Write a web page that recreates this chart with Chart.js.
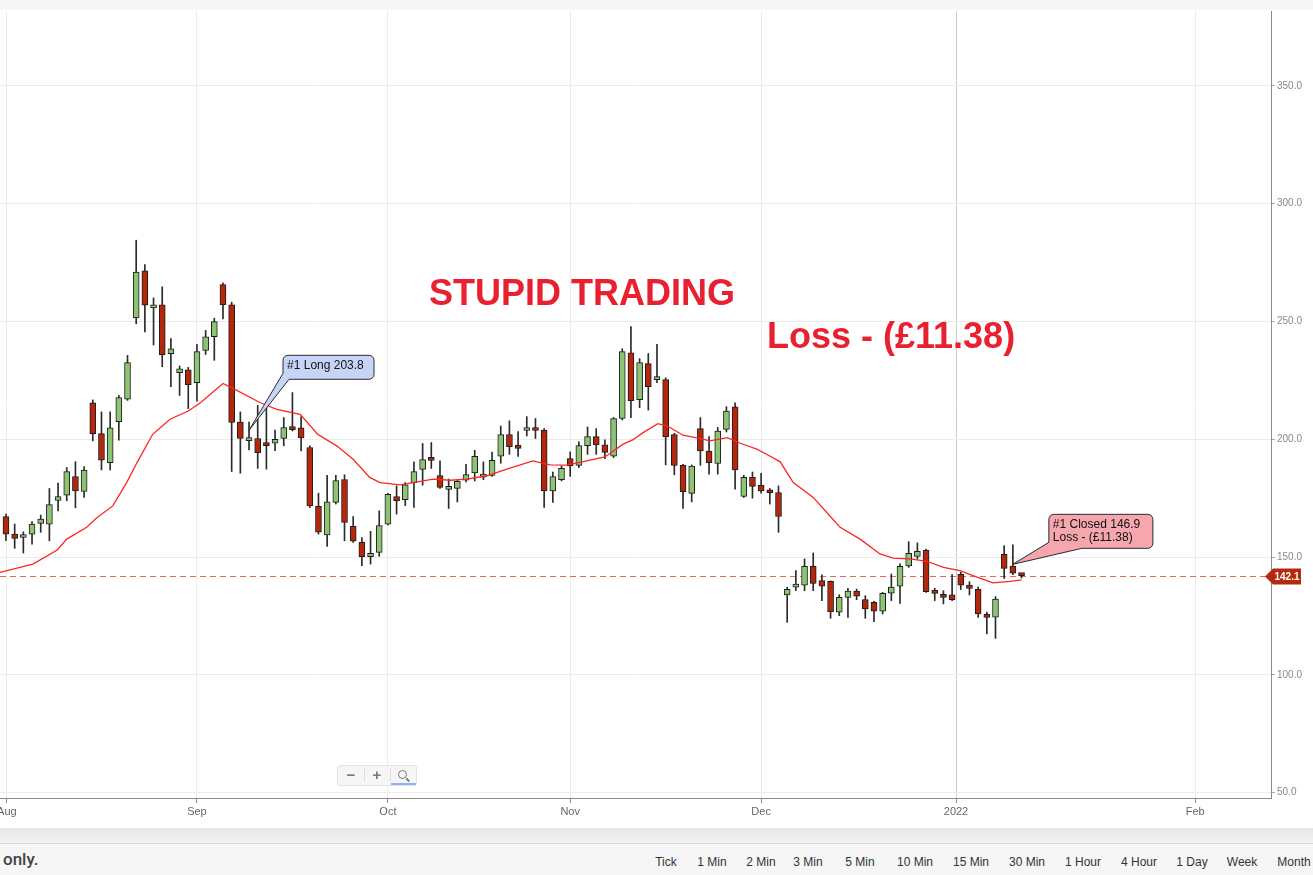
<!DOCTYPE html>
<html>
<head>
<meta charset="utf-8">
<title>Stupid trading</title>
<script src="https://cdn.jsdelivr.net/npm/chart.js@4.4.1/dist/chart.umd.min.js"></script>
<style>
body{margin:0;width:1313px;height:875px;overflow:hidden;background:#fff;font-family:"Liberation Sans",Arial,sans-serif;position:relative}
#topbar{position:absolute;left:0;top:0;width:1313px;height:10px;background:#f7f7f7}
#wrap{position:absolute;left:0;top:0;width:1313px;height:828px}
#shadow{position:absolute;left:0;top:828px;width:1313px;height:15px;background:linear-gradient(#e6e6e6,#f3f3f3)}
#footer{position:absolute;left:0;top:843px;width:1313px;height:32px;background:#f6f6f6;border-top:1px solid #dadada}
#footer .only{position:absolute;left:3px;top:5px;font-family:Roboto,"Liberation Sans",Arial;font-size:17px;font-weight:500;color:#444}
#footer .tf{position:absolute;top:11px;font-size:12px;color:#333;transform:translateX(-50%);white-space:nowrap}
#zoombox{position:absolute;left:337px;top:765px;width:78px;height:19px;background:#f6f6f6;border:1px solid #e2e2e2;border-radius:3px;font-size:15px;color:#777}
#zoombox span{position:absolute;top:0;width:26px;text-align:center;line-height:18px;font-weight:bold}
#zoombox .sep{position:absolute;top:3px;width:1px;height:13px;background:#ddd}
#lens{position:absolute;left:60px;top:4px;width:7px;height:7px;border:1.5px solid #777;border-radius:50%}
#lens:after{content:"";position:absolute;left:7px;top:8px;width:4px;height:1.5px;background:#777;transform:rotate(45deg)}
#uline{position:absolute;left:53px;top:17px;width:25px;height:2px;background:#8ab4f8}
</style>
</head>
<body>
<div id="wrap"><canvas id="candle-chart"></canvas></div>
<div id="topbar"></div>
<div id="zoombox"><span style="left:0">&minus;</span><div class="sep" style="left:26px"></div><span style="left:26px">+</span><div class="sep" style="left:52px"></div><div id="lens"></div><div id="uline"></div></div>
<div id="shadow"></div>
<div id="footer"><div class="only">only.</div></div>
<script>
// daily candles, Aug 2021 - Jan 2022 (index 0 = first candle)
var opens  = [167.2,159.7,158.3,159.7,164.3,163.9,174.0,176.3,184.2,177.8,215.5,202.4,190.1,207.5,217.0,251.5,271.5,255.8,257.1,236.3,228.3,229.5,224.0,237.7,243.5,265.7,257.1,207.3,199.4,200.3,198.2,198.3,200.3,205.4,204.8,196.5,171.5,159.4,173.2,182.9,163.0,156.2,150.1,152.0,163.9,175.7,174.4,181.6,187.2,191.8,184.6,178.7,179.1,182.6,185.7,183.9,184.6,192.8,202.0,197.3,203.7,204.5,203.9,178.1,182.8,191.8,188.9,197.3,201.1,197.6,192.8,208.8,236.7,216.8,232.1,225.3,225.3,202.0,188.9,177.0,204.5,195.0,189.7,204.2,213.8,175.7,183.8,180.4,178.1,177.4,133.9,137.2,138.1,146.1,140.0,139.7,126.6,132.9,135.5,131.9,130.8,127.0,134.7,137.6,146.2,150.3,152.8,135.5,133.9,133.9,142.7,138.1,136.3,125.3,124.5,151.1,146.2,142.5];
var highs  = [168.2,164.0,160.7,165.0,167.8,179.1,181.4,188.0,190.5,188.4,216.7,211.6,211.6,218.6,235.6,284.5,274.2,260.0,264.7,242.7,231.1,230.5,240.3,246.2,251.4,266.4,258.2,211.6,207.3,214.4,213.4,203.9,209.2,219.8,209.6,197.2,177.1,184.7,184.7,184.9,167.2,158.3,160.9,169.6,177.0,180.2,181.6,190.4,198.2,198.6,190.8,183.1,182.8,189.4,195.3,190.4,194.6,205.6,207.8,203.3,209.6,208.8,204.5,186.1,188.7,194.6,198.9,205.2,204.5,199.7,209.2,238.4,247.8,234.2,236.4,240.3,226.1,202.5,189.4,189.1,209.2,201.1,205.0,213.8,215.5,184.7,186.1,185.5,179.1,180.2,137.2,144.2,149.2,151.7,142.4,139.9,134.0,136.7,136.4,133.6,131.2,135.0,142.8,147.1,156.5,156.0,153.4,136.7,135.7,142.5,143.5,139.5,137.2,126.6,133.2,154.8,155.2,142.9];
var lows   = [156.9,153.7,151.7,155.5,160.5,156.9,169.6,173.9,170.9,175.3,199.3,187.0,187.0,199.6,216.5,249.0,245.6,240.0,230.8,222.3,218.6,213.0,216.2,236.0,233.5,251.1,186.3,185.6,195.5,187.6,187.3,195.2,197.2,203.5,195.0,171.0,159.7,154.5,172.5,156.9,156.2,146.3,147.0,150.3,163.6,168.2,171.8,171.1,180.5,187.6,179.1,170.6,173.4,181.9,182.3,182.8,184.2,189.8,193.6,192.7,201.4,200.3,171.1,173.2,182.3,184.2,187.9,193.6,193.6,191.8,192.2,208.2,209.2,213.4,212.4,224.0,189.1,184.9,170.6,173.4,188.9,185.2,185.2,203.1,178.8,175.3,175.0,177.1,172.5,160.5,122.3,135.7,135.7,135.7,131.5,124.0,125.1,124.4,131.9,124.0,122.6,125.8,131.5,130.3,145.6,149.2,135.0,131.5,130.1,131.5,136.2,133.9,124.4,117.4,115.5,140.9,142.5,141.1];
var closes = [159.7,157.9,159.3,164.0,166.1,172.3,175.7,186.3,178.1,186.9,202.4,191.1,204.8,217.7,232.5,271.0,256.9,256.6,235.9,238.4,229.9,223.2,237.2,243.5,249.9,257.1,207.1,200.3,200.4,194.3,197.3,200.0,205.0,204.1,200.6,171.7,160.5,173.4,182.5,164.7,156.7,150.1,151.6,163.4,176.6,173.9,180.6,186.3,191.4,191.0,179.5,179.5,182.1,185.0,192.8,184.7,191.0,202.0,196.9,196.1,204.5,203.7,178.1,184.2,187.6,188.7,197.3,201.1,197.6,194.4,208.8,237.2,216.4,232.5,222.3,226.1,201.1,188.9,177.7,188.6,195.0,190.1,203.5,212.0,187.0,183.8,180.0,178.1,177.3,167.2,136.3,138.1,146.1,138.8,137.6,126.8,132.9,135.5,133.4,128.0,127.0,134.6,137.2,146.1,151.6,152.4,135.3,134.6,132.9,131.9,138.0,136.7,125.8,124.4,132.1,145.2,143.1,142.1];

// red moving average, read at candle positions
var maIdx  = [-0.7,3.1,5.9,7.0,9.3,10.5,12.3,13.9,15.1,16.9,18.9,21.0,22.4,25.0,26.2,29.3,31.2,33.9,35.9,38.1,40.0,41.9,43.1,45.4,46.9,49.2,51.2,53.1,55.4,57.7,60.7,62.7,64.6,66.9,69.0,71.1,72.2,73.4,75.1,76.2,78.0,80.0,81.1,83.1,84.6,86.5,88.0,89.2,90.7,93.0,94.9,96.1,98.4,100.7,102.2,104.2,106.1,108.0,109.9,111.4,113.7,115.7,117.0];
var maVals = [143.5,147.0,153.0,157.6,162.6,166.8,171.7,181.6,190.1,202.1,208.5,212.0,215.5,223.7,221.5,215.5,212.7,210.6,202.1,197.2,191.5,183.8,181.6,180.6,181.6,183.1,182.6,183.1,184.5,187.3,190.8,189.1,189.0,190.8,192.5,197.9,199.7,202.8,206.6,205.6,201.7,200.3,199.3,200.7,198.3,195.8,192.9,190.4,181.6,175.3,167.5,162.6,157.6,151.3,149.5,149.2,148.2,145.6,144.2,142.1,139.0,139.7,140.3];

var monthLabels = ["Aug","Sep","Oct","Nov","Dec","2022","Feb"];
var monthPos    = [0.1,22.0,44.0,65.0,87.0,109.45,137.0];
var yTicks      = [50,100,150,200,250,300,350];
var timeframes  = ["Tick","1 Min","2 Min","3 Min","5 Min","10 Min","15 Min","30 Min","1 Hour","4 Hour","1 Day","Week","Month"];
var tfCenters   = [666,712,761,808,860,915,971,1027,1083,1139,1192,1242,1294];

var lastPrice = 142.1;
var entry = {idx: 28, price: 203.8, text: ["#1 Long 203.8"]};
var exit  = {idx: 116, price: 146.9, text: ["#1 Closed 146.9", "Loss - (\u00a311.38)"]};

var fonte = '"Liberation Sans", Arial, sans-serif';

function callout(ctx, tx, ty, bx, by, bw, bh, baseW, fill, lines){
	var r = 5, x1 = bx + bw, y1 = by + bh;
	ctx.save();
	ctx.beginPath();
	ctx.moveTo(bx + r, by);
	ctx.lineTo(x1 - r, by);
	ctx.arcTo(x1, by, x1, by + r, r);
	ctx.lineTo(x1, y1 - r);
	ctx.arcTo(x1, y1, x1 - r, y1, r);
	ctx.lineTo(bx + baseW, y1);
	ctx.lineTo(tx, ty);
	ctx.lineTo(bx, y1 - 6);
	ctx.lineTo(bx, by + r);
	ctx.arcTo(bx, by, bx + r, by, r);
	ctx.closePath();
	ctx.fillStyle = fill;
	ctx.fill();
	ctx.lineWidth = 1;
	ctx.strokeStyle = "#2a2a2a";
	ctx.stroke();
	ctx.fillStyle = "#111";
	ctx.font = "12px " + fonte;
	ctx.textAlign = "left";
	ctx.textBaseline = "middle";
	for (var i = 0; i < lines.length; i++) {
		ctx.fillText(lines[i], bx + 4, by + 10 + i * 13);
	}
	ctx.restore();
}

var tradePlugin = {
	id: "trade",
	beforeDatasetsDraw: function(chart){
		var ctx = chart.ctx, a = chart.chartArea;
		var y = Math.round(chart.scales.y.getPixelForValue(lastPrice)) + 0.5;
		ctx.save();
		ctx.setLineDash([6,4]);
		ctx.strokeStyle = "#e06a58";
		ctx.lineWidth = 1;
		ctx.beginPath();
		ctx.moveTo(a.left, y);
		ctx.lineTo(a.right, y);
		ctx.stroke();
		ctx.restore();
	},
	afterDatasetsDraw: function(chart){
		var ctx = chart.ctx, xs = chart.scales.x, ys = chart.scales.y;
		ctx.save();
		ctx.fillStyle = "#e8202f";
		ctx.font = "bold 36px " + fonte;
		ctx.textAlign = "left";
		ctx.textBaseline = "middle";
		ctx.fillText("STUPID TRADING", 429, 295);
		ctx.fillText("Loss - (\u00a311.38)", 767, 338);
		ctx.restore();
		var t1x = xs.getPixelForValue(entry.idx), t1y = ys.getPixelForValue(entry.price);
		callout(ctx, t1x, t1y, t1x + 34, t1y - 75, 91, 24, 6, "#c6d5f7", entry.text);
		var t2x = xs.getPixelForValue(exit.idx), t2y = ys.getPixelForValue(exit.price);
		callout(ctx, t2x, t2y, t2x + 36, t2y - 50, 104, 34, 33, "#f5a7ad", exit.text);
	},
	afterDraw: function(chart){
		var ctx = chart.ctx, a = chart.chartArea;
		var y = Math.round(chart.scales.y.getPixelForValue(lastPrice)) + 0.5;
		var x0 = a.right - 6;
		ctx.save();
		ctx.beginPath();
		ctx.moveTo(x0, y);
		ctx.lineTo(x0 + 8, y - 8);
		ctx.lineTo(x0 + 36, y - 8);
		ctx.lineTo(x0 + 36, y + 8);
		ctx.lineTo(x0 + 8, y + 8);
		ctx.closePath();
		ctx.fillStyle = "#b5290d";
		ctx.fill();
		ctx.fillStyle = "#fff";
		ctx.font = "bold 10px " + fonte;
		ctx.textAlign = "center";
		ctx.textBaseline = "middle";
		ctx.fillText(lastPrice.toFixed(1), x0 + 22, y + 0.5);
		ctx.restore();
	}
};

function charVelas(id){
	var idx = opens.map(function(v, i){ return i; });
	var colores = idx.map(function(i){ return closes[i] >= opens[i] ? "#8cc474" : "#b3280c"; });
	new Chart(document.getElementById(id), {
		type: "bar",
		data: {
			datasets: [
				{
					type: "line",
					data: maIdx.map(function(x, i){ return {x: x, y: maVals[i]}; }),
					borderColor: "#ff2424",
					borderWidth: 1.3,
					pointRadius: 0,
					pointHoverRadius: 0,
					pointBorderWidth: 0,
					pointHitRadius: 0,
					tension: 0,
					order: 0
				},
				{
					data: idx.map(function(i){ return {x: i, y: [opens[i], closes[i]]}; }),
					backgroundColor: colores,
					borderColor: "#1c1c1c",
					borderWidth: 1,
					borderSkipped: false,
					barThickness: 6,
					minBarLength: 3,
					grouped: false,
					order: 1
				},
				{
					data: idx.map(function(i){ return {x: i, y: [lows[i], highs[i]]}; }),
					backgroundColor: "#2b2b2b",
					barThickness: 1,
					grouped: false,
					order: 2
				}
			]
		},
		options: {
			responsive: true,
			maintainAspectRatio: false,
			animation: false,
			events: [],
			layout: {padding: {top: 11, left: 0, right: 0, bottom: 0}, autoPadding: false},
			plugins: {legend: {display: false}, tooltip: {enabled: false}, title: {display: false}},
			scales: {
				x: {
					type: "linear",
					offset: false,
					min: -0.69,
					max: 145.74,
					afterBuildTicks: function(s){ s.ticks = monthPos.map(function(v){ return {value: v}; }); },
					afterFit: function(s){ s.height = 30; s.paddingLeft = 0; s.paddingRight = 0; },
					ticks: {
						autoSkip: false,
						maxRotation: 0,
						color: "#666",
						font: {size: 11, family: fonte},
						padding: 2,
						callback: function(v, i){ return monthLabels[i]; }
					},
					grid: {
						offset: false,
						color: function(c){ return c.tick && c.tick.value === 109.45 ? "#cdcdcd" : "#ececec"; },
						tickColor: "#888",
						tickLength: 5
					},
					border: {color: "#8a8a8a"}
				},
				y: {
					position: "right",
					min: 47.7,
					max: 381.8,
					afterBuildTicks: function(s){ s.ticks = yTicks.map(function(v){ return {value: v}; }); },
					afterFit: function(s){ s.width = 42; s.paddingTop = 0; s.paddingBottom = 0; },
					ticks: {
						color: "#888",
						font: {size: 10, family: fonte},
						padding: 2,
						callback: function(v){ return Number(v).toFixed(1); }
					},
					grid: {color: "#ececec", tickColor: "#aaa", tickLength: 4},
					border: {color: "#8a8a8a"}
				}
			}
		},
		plugins: [tradePlugin]
	});
}

var footer = document.getElementById("footer");
for (var t = 0; t < timeframes.length; t++) {
	var s = document.createElement("div");
	s.className = "tf";
	s.style.left = tfCenters[t] + "px";
	s.textContent = timeframes[t];
	footer.appendChild(s);
}

charVelas("candle-chart");
</script>
</body>
</html>
